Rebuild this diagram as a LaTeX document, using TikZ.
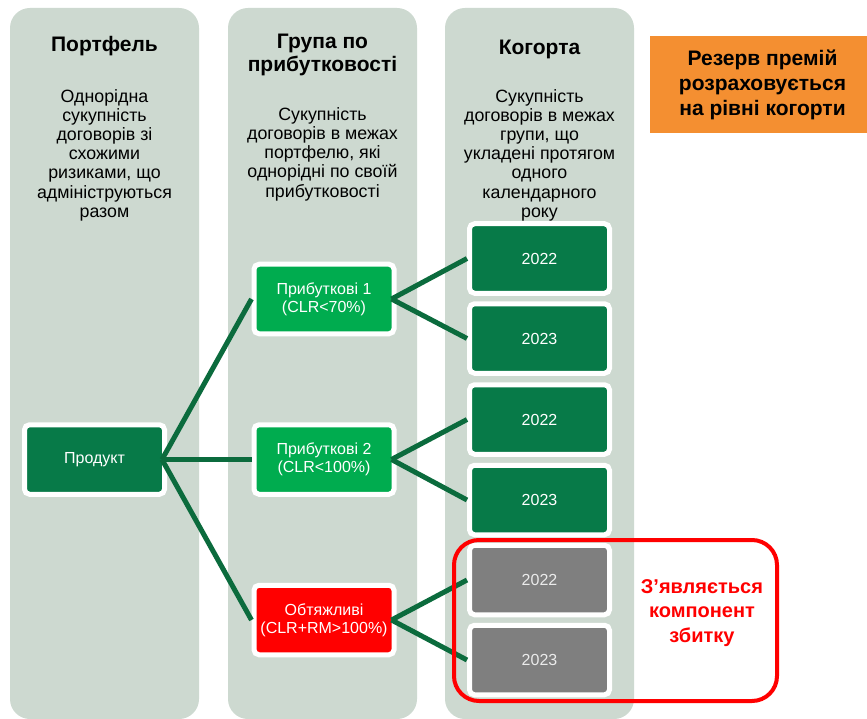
\documentclass[tikz,border=0pt]{standalone}
\usepackage{fontspec}
\setmainfont{Liberation Sans}
\definecolor{colbg}{HTML}{CDD9D0}
\definecolor{dgreen}{HTML}{077A48}
\definecolor{lgreen}{HTML}{00AC4F}
\definecolor{conncol}{HTML}{0B6B3D}
\definecolor{greybox}{HTML}{7F7F7F}
\definecolor{orangebox}{HTML}{F48F31}
\pgfdeclarelayer{bg}
\pgfsetlayers{bg,main}
\begin{document}
\begin{tikzpicture}[x=1pt,y=-1pt,
  colbox/.style={fill=colbg, draw=none, rounded corners=20pt},
  box/.style={draw=white, line width=5pt, rounded corners=5pt, minimum width=140pt, minimum height=69.5pt, inner sep=0pt, outer sep=0pt, align=center, text=white, font=\fontsize{16}{18}\selectfont},
  dbox/.style={box, fill=dgreen},
  lbox/.style={box, fill=lgreen},
  rbox/.style={box, fill=red},
  gbox/.style={box, fill=greybox},
  title/.style={align=center, font=\bfseries\fontsize{21}{22.5}\selectfont, inner sep=0pt},
  body/.style={align=center, font=\fontsize{17.8}{19.2}\selectfont, inner sep=0pt},
  conn/.style={draw=conncol, line width=5pt},
]
\useasboundingbox (0,0) rectangle (867,719);
\begin{pgfonlayer}{bg}
  \fill[white] (0,0) rectangle (867,719);
  \path[colbox] (10,8) rectangle (199,719);
  \path[colbox] (228,8) rectangle (417,719);
  \path[colbox] (445,8) rectangle (634,719);
\end{pgfonlayer}

\node[title] (t1) at (104.5,46) {Портфель};
\node[title] (t2) at (322.5,55) {Група по\\прибутковості};
\node[title] (t3) at (539.5,49) {Когорта};

\node[body] (b1) at (104.5,155) {Однорідна\\сукупність\\договорів зі\\схожими\\ризиками, що\\адмініструються\\разом};
\node[body] (b2) at (322.5,154) {Сукупність\\договорів в межах\\портфелю, які\\однорідні по своїй\\прибутковості};
\node[body] (b3) at (539.5,155) {Сукупність\\договорів в межах\\групи, що\\укладені протягом\\одного\\календарного\\року};

\node[fill=orangebox, minimum width=217pt, minimum height=97pt, inner sep=0pt] (ob) at (758.5,84.5) {};
\node[title, font=\bfseries\fontsize{21}{25}\selectfont] (ot) at (762.5,85) {Резерв премій\\розраховується\\на рівні когорти};

\node[dbox] (prod) at (94.5,459.5) {Продукт};
\node[lbox] (p1) at (324,299) {Прибуткові 1\\(CLR<70\%)};
\node[lbox] (p2) at (324,459.5) {Прибуткові 2\\(CLR<100\%)};
\node[rbox] (p3) at (324,620) {Обтяжливі\\(CLR+RM>100\%)};

\node[dbox] (c1) at (539.5,258.5) {2022};
\node[dbox] (c2) at (539.5,338.5) {2023};
\node[dbox] (c3) at (539.5,419.5) {2022};
\node[dbox] (c4) at (539.5,500) {2023};
\node[gbox, text=white!92!black] (c5) at (539.5,580) {2022};
\node[gbox, text=white!92!black] (c6) at (539.5,660) {2023};

\coordinate (pr) at ([xshift=-2.5pt]prod.east);
\coordinate (q1) at ([xshift=-2.5pt]p1.east);
\coordinate (q2) at ([xshift=-2.5pt]p2.east);
\coordinate (q3) at ([xshift=-2.5pt]p3.east);
\coordinate (i1) at ([xshift=-2.5pt]p1.west);
\coordinate (i2) at ([xshift=-2.5pt]p2.west);
\coordinate (i3) at ([xshift=-2.5pt]p3.west);
\coordinate (k1) at ([xshift=-2.5pt]c1.west);
\coordinate (k2) at ([xshift=-2.5pt]c2.west);
\coordinate (k3) at ([xshift=-2.5pt]c3.west);
\coordinate (k4) at ([xshift=-2.5pt]c4.west);
\coordinate (k5) at ([xshift=-2.5pt]c5.west);
\coordinate (k6) at ([xshift=-2.5pt]c6.west);
\draw[conn] (pr) -- (i1);
\draw[conn] (pr) -- (i2);
\draw[conn] (pr) -- (i3);
\draw[conn] (q1) -- (k1);
\draw[conn] (q1) -- (k2);
\draw[conn] (q2) -- (k3);
\draw[conn] (q2) -- (k4);
\draw[conn] (q3) -- (k5);
\draw[conn] (q3) -- (k6);

\draw[red, line width=4pt, rounded corners=25pt] (454,540) rectangle (777,701);
\node[title, text=red, font=\bfseries\fontsize{20}{24.5}\selectfont] (loss) at (702,613) {З’являється\\компонент\\збитку};
\end{tikzpicture}
\end{document}
